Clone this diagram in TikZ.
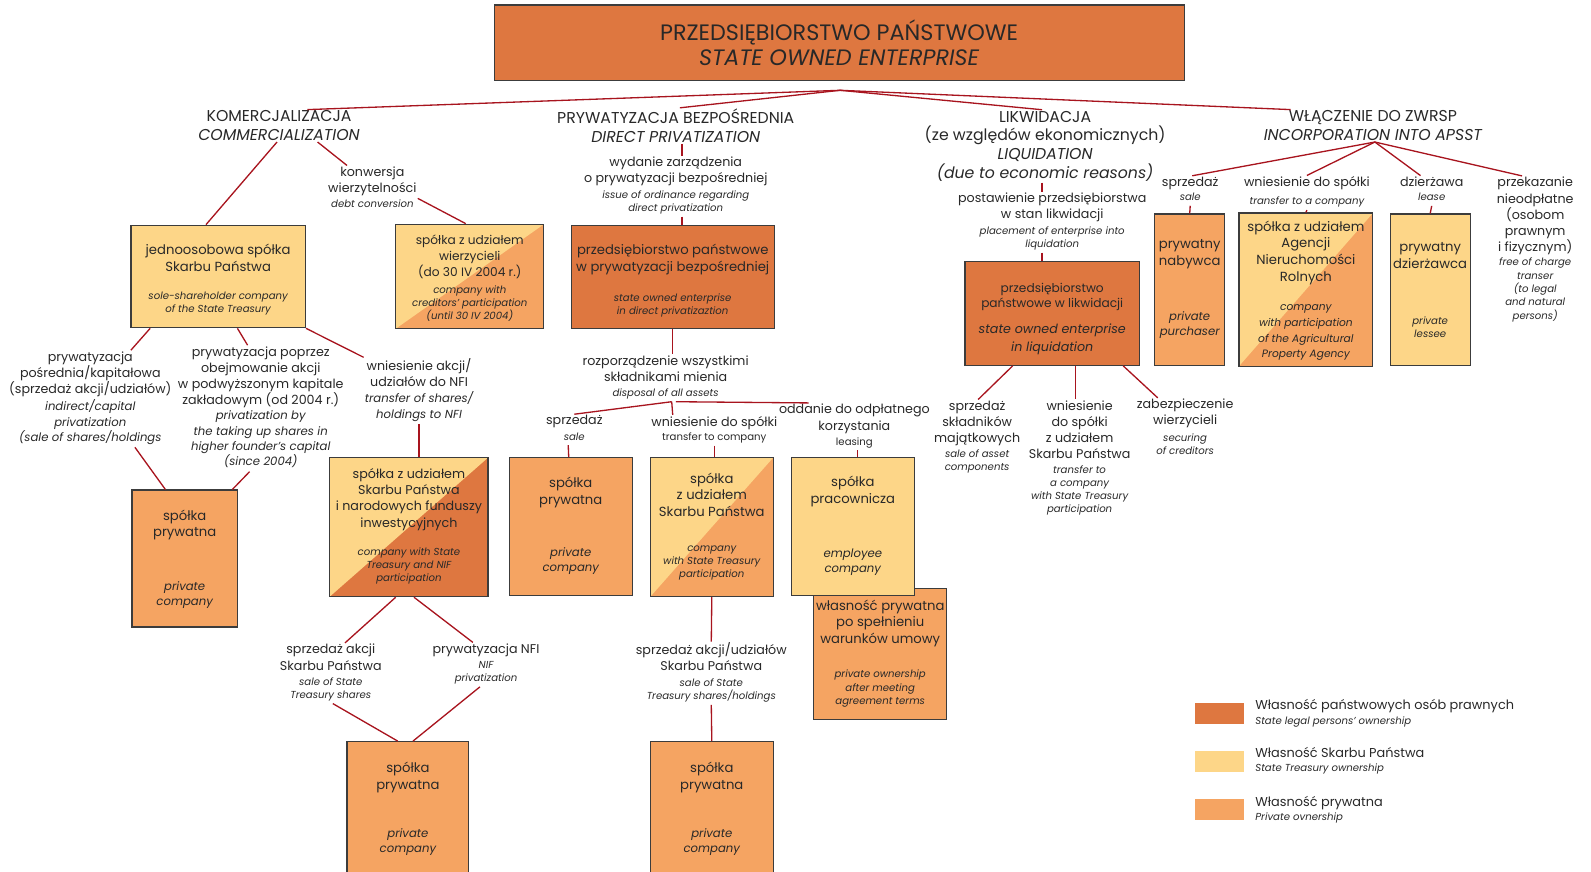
\documentclass[tikz,border=0pt]{standalone}
\usepackage{fontspec}
\setmainfont{Poppins}

\definecolor{stateco}{RGB}{222,119,64}
\definecolor{treasury}{RGB}{253,214,136}
\definecolor{privco}{RGB}{245,164,98}
\definecolor{wire}{RGB}{168,20,30}
\definecolor{frame}{RGB}{60,60,60}
\definecolor{ink}{RGB}{40,40,40}

\newcommand{\plfont}{\fontsize{12.5}{16}\selectfont}
\newcommand{\plbox}{\fontsize{13}{16.5}\selectfont}
\newcommand{\enfont}{\fontsize{10}{13}\selectfont\itshape}
\newcommand{\enmid}{\fontsize{10.5}{15.5}\selectfont\itshape}
\newcommand{\enbig}{\fontsize{11.5}{15}\selectfont\itshape}
\newcommand{\upsmall}{\fontsize{10}{13}\selectfont}
\newcommand{\hdrfont}{\fontsize{15.5}{18.5}\selectfont}
\newcommand{\topfont}{\fontsize{22}{24}\selectfont}
% English block: own font and line spacing
\newcommand{\entxt}[2][\enfont]{{#1\begin{tabular}[t]{@{}c@{}}#2\end{tabular}}}
% pushes a box text down a little
\newcommand{\lift}[1]{\rule{0pt}{#1}}

\tikzset{
  box/.style={draw=frame, line width=1.2pt, inner sep=0pt, align=center, text=ink, font=\plbox},
  lbl/.style={inner sep=1pt, align=center, text=ink, font=\plfont},
  link/.style={draw=wire, line width=1.3pt},
  twotone/.style 2 args={fill=#2, path picture={
    \fill[#1] (path picture bounding box.south west) |- (path picture bounding box.north east) -- cycle;}},
  swatch/.style={inner sep=0pt, minimum width=48pt, minimum height=21pt}
}

\begin{document}
\begin{tikzpicture}[x=1pt, y=-1pt]
    \useasboundingbox (0,0) rectangle (1568,859);

    % Top box
    \node[box, fill=stateco, font=\topfont, minimum width=680pt, minimum height=74pt] (soe) at (827,42)
        {PRZEDSIĘBIORSTWO PAŃSTWOWE\\\itshape STATE OWNED ENTERPRISE};
    \coordinate (hub) at (828,89);

    % Four main paths
    \node[lbl, font=\hdrfont] (komhdr) at (275,124) {KOMERCJALIZACJA\\\itshape COMMERCIALIZATION};
    \node[lbl, font=\hdrfont] (prywhdr) at (666,124) {PRYWATYZACJA BEZPOŚREDNIA\\\itshape DIRECT PRIVATIZATION};
    \node[lbl, font=\hdrfont] (likhdr) at (1030,144) {LIKWIDACJA\\(ze względów ekonomicznych)\\\itshape LIQUIDATION\\\itshape (due to economic reasons)};
    \node[lbl, font=\hdrfont] (wlahdr) at (1353,124) {WŁĄCZENIE DO ZWRSP\\\itshape INCORPORATION INTO APSST};

    \draw[link] (hub) -- ([xshift=28pt]komhdr.north);
    \draw[link] (hub) -- ([xshift=4pt]prywhdr.north);
    \draw[link] (hub) -- ([xshift=-3pt]likhdr.north);
    \draw[link] (hub) -- ([xshift=-81pt]wlahdr.north);

    % Commercialization
    \node[box, fill=treasury, minimum width=172pt, minimum height=101pt] (sole) at (215,272.5)
        {\lift{18pt}jednoosobowa spółka\\Skarbu Państwa\\[11.5pt]\entxt{sole-shareholder company\\of the State Treasury}};
    \node[lbl] (konw) at (367,186.5) {konwersja\\wierzytelności\\[-1pt]\entxt{debt conversion}};
    \node[box, twotone={treasury}{privco}, font=\fontsize{12}{16}\selectfont, minimum width=146pt, minimum height=103pt] (cred) at (463,272.5)
        {\lift{15pt}spółka z udziałem\\wierzycieli\\(do 30 IV 2004 r.)\\\entxt{company with\\creditors’ participation\\(until 30 IV 2004)}};
    \draw[link] ([xshift=-2pt]komhdr.south) -- ([xshift=-12pt]sole.north);
    \draw[link] ([xshift=38pt]komhdr.south) -- ([xshift=-25pt]konw.north);
    \draw[link] ([yshift=-9pt]konw.east) -- ([xshift=-4pt]cred.north);

    \node[lbl] (posr) at (89,393) {prywatyzacja\\pośrednia/kapitałowa\\(sprzedaż akcji/udziałów)\\[1pt]\entxt[\enbig]{indirect/capital\\privatization\\(sale of shares/holdings}};
    \node[lbl] (poprzez) at (257,402.5) {prywatyzacja poprzez\\obejmowanie akcji\\w podwyższonym kapitale\\zakładowym (od 2004 r.)\\[-1pt]\entxt[\enbig]{privatization by\\the taking up shares in\\higher founder’s capital\\(since 2004)}};
    \node[lbl] (nfiin) at (413,385) {wniesienie akcji/\\udziałów do NFI\\\entxt[\enbig]{transfer of shares/\\holdings to NFI}};
    \node[box, fill=privco, minimum width=104pt, minimum height=135pt] (privC) at (182,550.5)
        {\lift{13pt}spółka\\prywatna\\[36.5pt]\entxt[\enbig]{private\\company}};
    \node[box, twotone={treasury}{stateco}, font=\fontsize{12.5}{16}\selectfont, minimum width=156pt, minimum height=137pt] (nfibox) at (403,519.5)
        {spółka z udziałem\\Skarbu Państwa\\i narodowych funduszy\\inwestycyjnych\\[12pt]\entxt{company with State\\Treasury and NIF\\participation}};
    \draw[link] ([xshift=-67pt]sole.south) -- ([xshift=40pt]posr.north);
    \draw[link] ([xshift=44pt]posr.south) -- ([xshift=-19pt]privC.north);
    \draw[link] ([xshift=19pt]sole.south) -- ([xshift=-13pt]poprzez.north);
    \draw[link] ([xshift=-11pt]poprzez.south) -- ([xshift=47pt]privC.north);
    \draw[link] (sole.south east) -- (nfiin.north west);
    \draw[link] (nfiin.south) -- ([xshift=10pt]nfibox.north);

    \node[lbl] (sprzST) at (326,663.5) {sprzedaż akcji\\Skarbu Państwa\\[-1pt]\entxt{sale of State\\Treasury shares}};
    \node[lbl] (prywNFI) at (479,655) {prywatyzacja NFI\\[-1pt]\entxt{NIF\\privatization}};
    \node[box, fill=privco, minimum width=120pt, minimum height=134pt] (privE) at (402,798)
        {spółka\\prywatna\\[30.5pt]\entxt[\enbig]{private\\company}};
    \draw[link] ([xshift=-13pt]nfibox.south) -- ([xshift=14pt]sprzST.north);
    \draw[link] ([xshift=5pt]nfibox.south) -- ([xshift=-13pt]prywNFI.north);
    \draw[link] ([xshift=2pt]sprzST.south) -- ([xshift=-10pt]privE.north);
    \draw[link] ([xshift=-6pt]prywNFI.south) -- ([xshift=5pt]privE.north);

    % Direct privatization
    \node[lbl] (wydanie) at (666,183.5) {wydanie zarządzenia\\o prywatyzacji bezpośredniej\\[-1pt]\entxt{issue of ordinance regarding\\direct privatization}};
    \node[box, fill=stateco, minimum width=200pt, minimum height=102pt] (direct) at (663,273)
        {\lift{19pt}przedsiębiorstwo państwowe\\w prywatyzacji bezpośredniej\\[12.5pt]\entxt{state owned enterprise\\in direct privatizaztion}};
    \node[lbl] (rozp) at (656,372.5) {rozporządzenie wszystkimi\\składnikami mienia\\[-1pt]\entxt{disposal of all assets}};
    \draw[link] ([xshift=6pt]prywhdr.south) -- ([xshift=6pt]wydanie.north);
    \draw[link] ([xshift=6pt]wydanie.south) -- ([xshift=9pt]direct.north);
    \draw[link] (direct.south) -- ([xshift=7pt]rozp.north);

    \node[lbl] (sale) at (566,423.5) {sprzedaż\\[-1pt]\entxt{sale}};
    \node[lbl] (trans) at (704,424) {wniesienie do spółki\\[-2pt]\entxt[\upsmall]{transfer to company}};
    \node[lbl] (leas) at (842,420.5) {oddanie do odpłatnego\\korzystania\\[-1pt]\entxt[\upsmall]{leasing}};
    \draw[link] ([xshift=6pt]rozp.south) -- (sale.north);
    \draw[link] ([xshift=6pt]rozp.south) -- ([xshift=-41pt]trans.north);
    \draw[link] ([xshift=10pt]rozp.south) -- ([xshift=-45pt]leas.north);

    \node[box, fill=privco, minimum width=121pt, minimum height=136pt] (privG) at (562.5,519)
        {spółka\\prywatna\\[34.5pt]\entxt[\enbig]{private\\company}};
    \node[box, twotone={treasury}{privco}, minimum width=121pt, minimum height=137pt] (boxH) at (701.5,519.5)
        {spółka\\z udziałem\\Skarbu Państwa\\[17.5pt]\entxt{company\\with State Treasury\\participation}};
    \node[box, fill=privco, minimum width=131pt, minimum height=129pt] (owned) at (867.5,644.5)
        {własność prywatna\\po spełnieniu\\warunków umowy\\[17.5pt]\entxt{private ownership\\after meeting\\agreement terms}};
    \node[box, fill=treasury, minimum width=121pt, minimum height=136pt] (empl) at (840.5,519)
        {spółka\\pracownicza\\[36.5pt]\entxt[\enbig]{employee\\company}};
    \draw[link] ([xshift=-6pt]sale.south) -- ([xshift=-2pt]privG.north);
    \draw[link] (trans.south) -- ([xshift=2.5pt]boxH.north);
    \draw[link] ([xshift=3pt]leas.south) -- ([xshift=4.5pt]empl.north);

    \node[lbl] (sprzAU) at (701,663.5) {sprzedaż akcji/udziałów\\Skarbu Państwa\\[-1pt]\entxt{sale of State\\Treasury shares/holdings}};
    \node[box, fill=privco, minimum width=121pt, minimum height=134pt] (boxK) at (701.5,798)
        {spółka\\prywatna\\[30.5pt]\entxt[\enbig]{private\\company}};
    \draw[link] (boxH.south) -- (sprzAU.north);
    \draw[link] (sprzAU.south) -- (boxK.north);

    % Liquidation
    \node[lbl] (post) at (1037,219) {postawienie przedsiębiorstwa\\w stan likwidacji\\[-1pt]\entxt{placement of enterprise into\\liquidation}};
    \node[box, fill=stateco, font=\fontsize{12}{15}\selectfont, minimum width=172pt, minimum height=102pt] (liqbox) at (1037,309)
        {\lift{22pt}przedsiębiorstwo\\państwowe w likwidacji\\[9pt]\entxt[\fontsize{12.5}{18}\selectfont\itshape]{state owned enterprise\\in liquidation}};
    \draw[link] ([xshift=-3pt]likhdr.south) -- ([xshift=-10pt]post.north);
    \draw[link] ([xshift=-10pt]post.south) -- ([xshift=-10pt]liqbox.north);

    \node[lbl] (sprzSk) at (963,431.5) {sprzedaż\\składników\\majątkowych\\[-1pt]\entxt{sale of asset\\components}};
    \node[lbl] (wniesSP) at (1064,452) {wniesienie\\do spółki\\z udziałem\\Skarbu Państwa\\[-2pt]\entxt{transfer to\\a company\\with State Treasury\\participation}};
    \node[lbl] (zabez) at (1168,422.5) {zabezpieczenie\\wierzycieli\\\entxt{securing\\of creditors}};
    \draw[link] ([xshift=-39pt]liqbox.south) -- ([xshift=1pt]sprzSk.north);
    \draw[link] ([xshift=23pt]liqbox.south) -- ([xshift=-4pt]wniesSP.north);
    \draw[link] ([xshift=70pt]liqbox.south) -- ([xshift=-27pt]zabez.north);

    % Incorporation into APSST
    \node[lbl] (sale2) at (1173,188) {sprzedaż\\[-2pt]\entxt{sale}};
    \node[lbl] (trans2) at (1288,190) {wniesienie do spółki\\[2pt]\entxt{transfer to a company}};
    \node[lbl] (lease) at (1411,188) {dzierżawa\\[-2pt]\entxt{lease}};
    \node[lbl] (przek) at (1513,246.5) {przekazanie\\nieodpłatne\\(osobom\\prawnym\\i fizycznym)\\[-2pt]\entxt{free of charge\\transer\\(to legal\\and natural\\persons)}};
    \draw[link] ([xshift=2pt]wlahdr.south) -- ([xshift=2pt]sale2.north);
    \draw[link] ([xshift=2pt]wlahdr.south) -- (trans2.north);
    \draw[link] ([xshift=2pt]wlahdr.south) -- ([xshift=-11pt]lease.north);
    \draw[link] ([xshift=2pt]wlahdr.south) -- ([xshift=-13pt]przek.north);

    \node[box, fill=privco, minimum width=69pt, minimum height=149pt] (boxM) at (1172.5,285.5)
        {prywatny\\nabywca\\[37.5pt]\entxt[\enbig]{private\\purchaser}};
    \node[box, twotone={treasury}{privco}, minimum width=132pt, minimum height=151pt] (boxN) at (1287,285.5)
        {\lift{14pt}spółka z udziałem\\Agencji\\Nieruchomości\\Rolnych\\[12.5pt]\entxt[\enmid]{company\\with participation\\of the Agricultural\\Property Agency}};
    \node[box, fill=treasury, minimum width=79pt, minimum height=149pt] (boxO) at (1409.5,285.5)
        {\lift{14pt}prywatny\\dzierżawca\\[38.5pt]\entxt{private\\lessee}};
    \draw[link] (sale2.south) -- (boxM.north);
    \draw[link] (trans2.south) -- (boxN.north);
    \draw[link] (lease.south) -- (boxO.north);

    % Legend
    \node[swatch, fill=stateco] (sw1) at (1202,703.5) {};
    \node[lbl, anchor=west, align=left, font=\fontsize{12.7}{14}\selectfont] (lg1) at (1236,703)
        {Własność państwowych osób prawnych\\\enfont State legal persons’ ownership};
    \node[swatch, fill=treasury] (sw2) at (1202,750.5) {};
    \node[lbl, anchor=west, align=left, font=\fontsize{12.7}{14}\selectfont] (lg2) at (1236,750)
        {Własność Skarbu Państwa\\\enfont State Treasury ownership};
    \node[swatch, fill=privco] (sw3) at (1202,797.5) {};
    \node[lbl, anchor=west, align=left, font=\fontsize{12.7}{14}\selectfont] (lg3) at (1236,798)
        {Własność prywatna\\\enfont Private ovnership};
\end{tikzpicture}
\end{document}
